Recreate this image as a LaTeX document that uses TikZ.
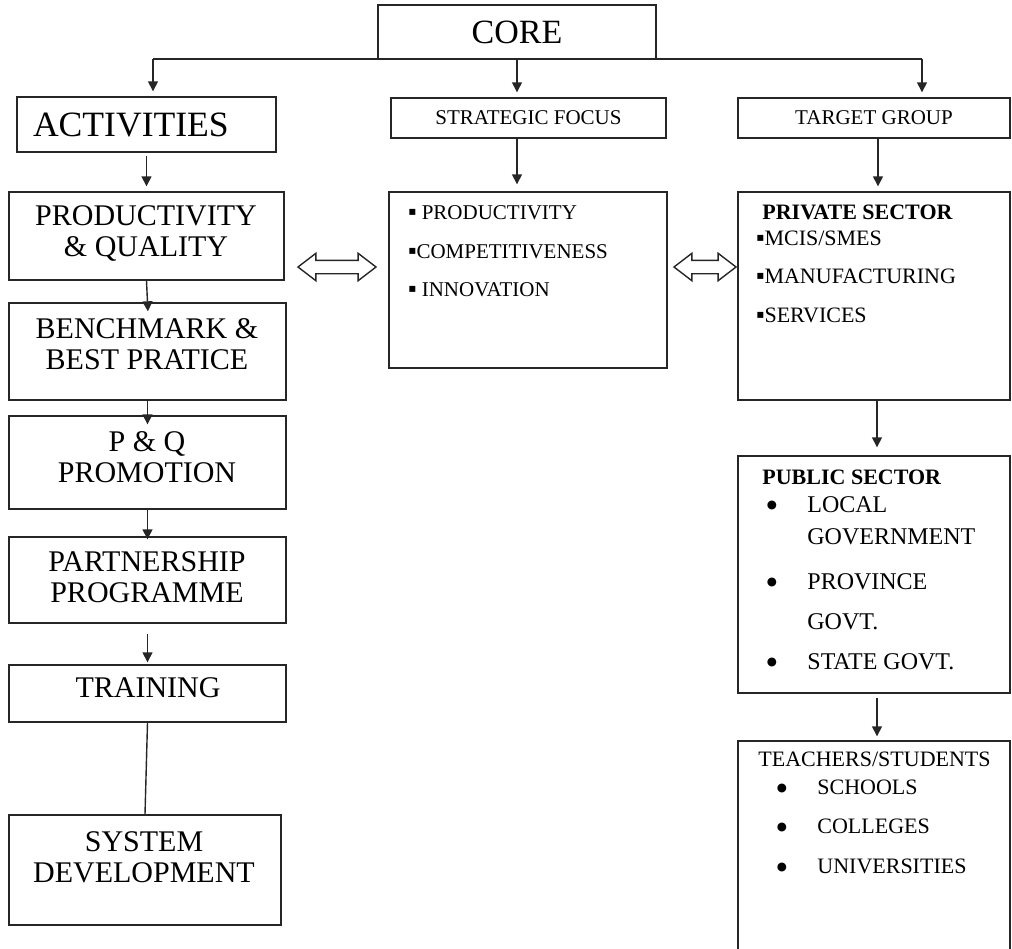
\documentclass[tikz,border=0pt]{standalone}
\usepackage{fontspec}
\setmainfont{Liberation Serif}
\newfontfamily\symfont{DejaVu Sans}
\usetikzlibrary{arrows.meta,shapes.arrows}
\tikzset{
    box/.style={draw=black!85,line width=0.7pt,inner sep=0pt},
    headtxt/.style={inner sep=0pt,align=center,font=\fontsize{15}{15.5}\selectfont},
    itemtxt/.style={inner sep=0pt,anchor=base west},
    dotmark/.style={inner sep=0pt,font=\symfont\fontsize{5.8}{6}\selectfont},
    flow/.style={-{Triangle[length=5pt,width=5pt]},line width=0.7pt,draw=black!85,shorten >=2.5pt},
    link/.style={line width=0.7pt,draw=black!85},
    twoway/.style={double arrow,draw=black!85,line width=0.7pt,inner sep=3pt,
        minimum height=39pt,double arrow head extend=3.5pt,double arrow tip angle=75}
}
\newcommand{\sq}{\raisebox{1.6pt}{\symfont\fontsize{6}{6}\selectfont ▪}}

\begin{document}
\begin{tikzpicture}[x=0.5pt,y=-0.5pt]
\useasboundingbox (0,0) rectangle (1012,948);
\clip (0,0) rectangle (1012,948);

% top of the tree
\node[box,minimum width=139pt,minimum height=27pt,font=\fontsize{17}{20}\selectfont] (core) at (517,32) {CORE};
\coordinate (cl) at (153,59);
\coordinate (cr) at (922,59);

% activities column
\node[box,minimum width=129.5pt,minimum height=27.5pt,inner xsep=8pt,text width=113.5pt,align=left,
      font=\fontsize{17.8}{19}\selectfont] (act) at (146.5,124.5) {ACTIVITIES};
\node[box,minimum width=137.5pt,minimum height=44pt] (pq) at (146.5,236) {};
\node[headtxt] (pqtxt) at (146,233) {PRODUCTIVITY\\\& QUALITY};
\node[box,minimum width=138.5pt,minimum height=48.5pt] (bb) at (147.5,351.5) {};
\node[headtxt] (bbtxt) at (147,344) {BENCHMARK \&\\BEST PRATICE};
\node[box,minimum width=138.5pt,minimum height=46.5pt] (pqp) at (147.5,462.5) {};
\node[headtxt] (pqptxt) at (147,457) {P \& Q\\PROMOTION};
\node[box,minimum width=138.5pt,minimum height=43pt] (part) at (147.5,580) {};
\node[headtxt] (parttxt) at (147,577.5) {PARTNERSHIP\\PROGRAMME};
\node[box,minimum width=138.5pt,minimum height=28.5pt] (train) at (147.5,693.5) {};
\node[headtxt] (traintxt) at (148,688) {TRAINING};
\node[box,minimum width=136pt,minimum height=55pt] (sys) at (145,870) {};
\node[headtxt] (systxt) at (144,857) {SYSTEM\\DEVELOPMENT};

% strategic focus
\node[box,minimum width=137.5pt,minimum height=20pt,font=\fontsize{10.5}{12}\selectfont] (focus) at (528.5,118) {STRATEGIC FOCUS};
\node[box,minimum width=139pt,minimum height=88pt] (fbox) at (528,280) {};
\begin{scope}[font=\fontsize{10.5}{12}\selectfont]
\node[itemtxt] (f1) at (408,219) {\sq\ PRODUCTIVITY};
\node[itemtxt] (f2) at (408,258) {\sq COMPETITIVENESS};
\node[itemtxt] (f3) at (408,296) {\sq\ INNOVATION};
\end{scope}

% target group
\node[box,minimum width=136pt,minimum height=20pt,font=\fontsize{10.5}{12}\selectfont] (target) at (874,118) {TARGET GROUP};
\node[box,minimum width=136pt,minimum height=104pt] (priv) at (874,296) {};
\node[box,minimum width=136pt,minimum height=118.5pt] (pub) at (874,574.5) {};
\node[box,minimum width=136pt,minimum height=124.5pt] (teach) at (874,865.5) {};

\begin{scope}[font=\fontsize{11}{12}\selectfont]
\node[itemtxt] (p0) at (762,219) {\textbf{PRIVATE SECTOR}};
\node[itemtxt] (p1) at (756,245) {\sq MCIS/SMES};
\node[itemtxt] (p2) at (756,283) {\sq MANUFACTURING};
\node[itemtxt] (p3) at (756,322) {\sq SERVICES};
\node[itemtxt] (u0) at (762,484) {\textbf{PUBLIC SECTOR}};
\node[itemtxt] (t0) at (758,766) {TEACHERS/STUDENTS};
\end{scope}

\begin{scope}[font=\fontsize{12}{13}\selectfont]
\foreach \y [count=\i] in {505,582,662}
    \node[dotmark] (ub\i) at (772,\y) {●};
\node[itemtxt] (u1) at (807,512) {LOCAL};
\node[itemtxt] (u2) at (807,544) {GOVERNMENT};
\node[itemtxt] (u3) at (807,589) {PROVINCE};
\node[itemtxt] (u4) at (807,629) {GOVT.};
\node[itemtxt] (u5) at (807,669) {STATE GOVT.};
\end{scope}

\begin{scope}[font=\fontsize{11}{12}\selectfont]
\foreach \y [count=\i] in {788,827,867}
    \node[dotmark] (tb\i) at (782,\y) {●};
\node[itemtxt] (t1) at (817,794) {SCHOOLS};
\node[itemtxt] (t2) at (817,833) {COLLEGES};
\node[itemtxt] (t3) at (817,873) {UNIVERSITIES};
\end{scope}

% two way links
\node[twoway] (lr1) at (337,267) {};
\node[twoway,minimum height=31pt] (lr2) at (705,267) {};

% connectors
\draw[link] (cl) -- (cr);
\draw[flow] (cl) -- (cl |- act.north);
\draw[flow] (core.south) -- (core.south |- focus.north);
\draw[flow] (cr) -- (cr |- target.north);

\draw[flow,shorten <=1.5pt] (act.south) -- (pq.north);
\draw[flow,shorten >=-4.5pt] (pq.south) -- (bb.north);
\draw[flow,shorten >=-4.5pt] (bb.south) -- (pqp.north);
\draw[flow,shorten >=-1.5pt] (pqp.south) -- (part.north);
\draw[flow,shorten <=5pt,shorten >=1pt] (part.south) -- (train.north);
\draw[link] (train.south) -- (sys.north);

\draw[flow,shorten >=3.5pt] (core.south |- focus.south) -- (core.south |- fbox.north);
\draw[flow] ([xshift=2pt]target.south) -- ([xshift=2pt]priv.north);
\draw[flow,shorten >=4pt] ([xshift=1.5pt]priv.south) -- ([xshift=1.5pt]pub.north);
\draw[flow,shorten <=2pt,shorten >=2pt] ([xshift=1.5pt]pub.south) -- ([xshift=1.5pt]teach.north);

\end{tikzpicture}
\end{document}
